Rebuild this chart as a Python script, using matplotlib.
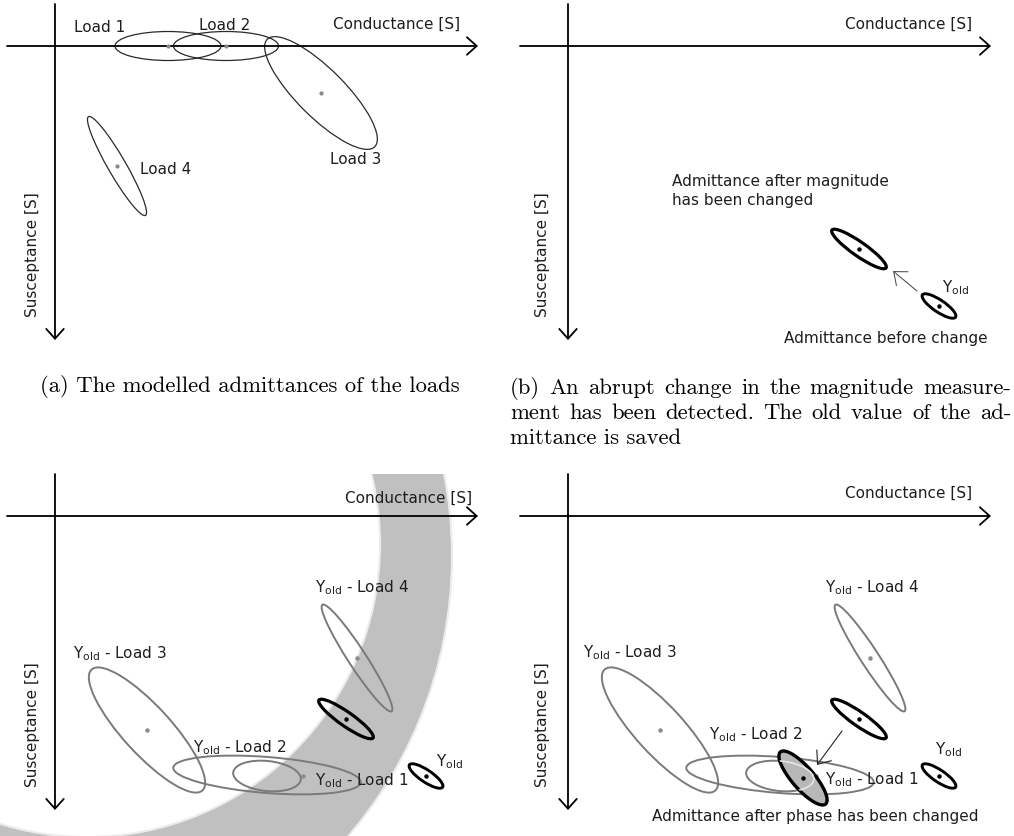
import matplotlib.pyplot as plt
from matplotlib.patches import Ellipse, Circle

W, H = 1014, 837
TXT = '#1e1e1e'

# (a) modelled load admittances: centre (G, B) from the origin, ellipse size and tilt
load_names = ['Load 1', 'Load 2', 'Load 3', 'Load 4']
load_g = [113, 171, 266, 62]
load_b = [0, 0, 47, 120]
load_w = [106, 105, 152, 114]
load_h = [29, 29, 48, 18]
load_angle = [0, 0, 45, 60]

# admittance before the change (Y_old) and after the magnitude change
old_g, old_b, old_w, old_h, old_angle = 371, 260, 40, 12, 34
new_g, new_b, new_w, new_h, new_angle = 291, 203, 66, 14, 35

# (c)/(d) Y_old - Load k
diff_names = ['Load 1', 'Load 2', 'Load 3', 'Load 4']
diff_g = [212, 212, 92, 302]
diff_b = [260, 259, 214, 142]
diff_w = [68, 188, 164, 127]
diff_h = [30, 36, 48, 18]
diff_angle = [6, 4.5, 47.5, 57]
diff_dot_g = [248, None, 92, 302]
diff_dot_b = [260, None, 214, 142]

# (d) admittance after the phase has been changed
phase_g, phase_b, phase_w, phase_h, phase_angle = 235, 262, 69, 22, 49

# (c) band of possible magnitudes: inner and outer circle (centre g, centre b, radius)
band_inner = (32, 28, 293)
band_outer = (-33, 40, 430)

caption_a = '(a) The modelled admittances of the loads'
caption_b = ['(b) An abrupt change in the magnitude measure-',
             'ment has been detected.  The old value of the ad-',
             'mittance is saved']

fig = plt.figure(figsize=(W / 100, H / 100), dpi=100)


def panel(x, y, w, h, ox, oy):
    ax = fig.add_axes([x / W, 1 - (y + h) / H, w / W, h / H])
    ax.set_xlim(x - ox, x + w - ox)
    ax.set_ylim(y + h - oy, y - oy)
    ax.axis('off')
    return ax


def draw_axes(ax, cond_xy, susc_x):
    arrow = dict(arrowstyle='->,head_length=0.5,head_width=0.45', lw=1.3,
                 color='black', shrinkA=0, shrinkB=0, mutation_scale=14)
    ax.annotate('', xy=(423, 0), xytext=(-48, 0), arrowprops=arrow)
    ax.annotate('', xy=(0, 294), xytext=(0, -42), arrowprops=arrow)
    ax.text(cond_xy[0], cond_xy[1], 'Conductance [S]', ha='center', va='center',
            fontsize=11, color=TXT)
    ax.text(susc_x, 208, 'Susceptance [S]', rotation=90, ha='center', va='center',
            fontsize=11, color=TXT)


def ell(ax, g, b, w, h, a, ec, lw, fc='none', z=2, dot=True):
    e = Ellipse((g, b), w, h, angle=a, ec=ec, fc=fc, lw=lw, zorder=z)
    ax.add_patch(e)
    if dot:
        ax.plot(g, b, 'o', ms=2.2, color=ec, zorder=z + 0.1)
    return e


def yold_text(ax, x, y, rest=''):
    ax.text(x, y, r'Y$_{\mathregular{old}}$' + rest, ha='left', va='center',
            fontsize=11, color=TXT, zorder=5)


# ---------------- (a)
ax = panel(0, 0, 507, 360, 55, 47)
draw_axes(ax, (342, -23), -23)
for i in range(4):
    ell(ax, load_g[i], load_b[i], load_w[i], load_h[i], load_angle[i], '#2a2a2a', 0.9, dot=False)
    ax.plot(load_g[i], load_b[i], 'o', ms=2, color='#888888', zorder=3)
label_pos = [(45, -20), (170, -21), (301, 113), (111, 123)]
for name, (x, y) in zip(load_names, label_pos):
    ax.text(x, y, name, ha='center', va='center', fontsize=11, color=TXT)

# ---------------- (b)
ax = panel(507, 0, 507, 360, 568, 47)
draw_axes(ax, (341, -23), -25)
ell(ax, new_g, new_b, new_w, new_h, new_angle, 'black', 2.3)
ell(ax, old_g, old_b, old_w, old_h, old_angle, 'black', 2.1)
ax.annotate('', xy=(325, 225), xytext=(349, 245),
            arrowprops=dict(arrowstyle='->,head_length=0.8,head_width=0.65', lw=0.8,
                            color='#555555', shrinkA=0, shrinkB=0, mutation_scale=10))
ax.text(104, 144, 'Admittance after magnitude\nhas been changed', ha='left', va='center',
        fontsize=11, color=TXT, linespacing=1.3)
yold_text(ax, 374, 241)
ax.text(318, 292, 'Admittance before change', ha='center', va='center', fontsize=11, color=TXT)

# ---------------- (c)
ax = panel(0, 475, 507, 362, 55, 517)
ax.add_patch(Circle(band_outer[:2], band_outer[2], fc='#c0c0c0', ec='#ececec', lw=1.5, zorder=0.5))
ax.add_patch(Circle(band_inner[:2], band_inner[2], fc='white', ec='#ececec', lw=1.5, zorder=0.6))
draw_axes(ax, (354, -19), -23)
for i in range(4):
    ell(ax, diff_g[i], diff_b[i], diff_w[i], diff_h[i], diff_angle[i], '#7a7a7a', 1.4, dot=False)
    if diff_dot_g[i] is not None:
        ax.plot(diff_dot_g[i], diff_dot_b[i], 'o', ms=2.2, color='#8a8a8a', zorder=3)
ell(ax, new_g, new_b, new_w, new_h, new_angle, 'black', 2.3)
ell(ax, old_g, old_b, old_w, old_h, old_angle, 'black', 2.1)
for name, (x, y) in zip(diff_names, [(260, 264), (138, 231), (18, 137), (260, 71)]):
    yold_text(ax, x, y, ' - ' + name)
yold_text(ax, 381, 245)

# ---------------- (d)
ax = panel(507, 475, 507, 362, 568, 517)
draw_axes(ax, (341, -24), -25)
for i in range(4):
    ell(ax, diff_g[i], diff_b[i], diff_w[i], diff_h[i], diff_angle[i], '#7a7a7a', 1.4, dot=False)
    if diff_dot_g[i] is not None:
        ax.plot(diff_dot_g[i], diff_dot_b[i], 'o', ms=2.2, color='#8a8a8a', zorder=3)
ell(ax, new_g, new_b, new_w, new_h, new_angle, 'black', 2.3)
ell(ax, old_g, old_b, old_w, old_h, old_angle, 'black', 2.1)
ph = ell(ax, phase_g, phase_b, phase_w, phase_h, phase_angle, 'black', 2.4, fc='#b8b8b8', z=4)
inner = Ellipse((diff_g[0], diff_b[0]), diff_w[0], diff_h[0], angle=diff_angle[0],
                ec='#e6e6e6', fc='none', lw=1.2, zorder=4.05)
ax.add_patch(inner)
inner.set_clip_path(ph)
ax.annotate('', xy=(249, 249), xytext=(274, 215),
            arrowprops=dict(arrowstyle='->,head_length=0.8,head_width=0.65', lw=0.8,
                            color='#222222', shrinkA=0, shrinkB=0, mutation_scale=10))
for name, (x, y) in zip(diff_names, [(257, 263), (141, 218), (15, 136), (257, 71)]):
    yold_text(ax, x, y, ' - ' + name)
yold_text(ax, 367, 233)
ax.text(247, 300, 'Admittance after phase has been changed', ha='center', va='center',
        fontsize=11, color=TXT)

# ---------------- captions (LaTeX-like, caption (b) justified)
cap = dict(family='cmr10', fontsize=16.3, color='black', va='center', ha='left')
fig.text(40 / W, 1 - 387 / H, caption_a, **cap)

renderer = fig.canvas.get_renderer()
left, right = 510, 1011
for k, line in enumerate(caption_b):
    y = 1 - (388 + 25 * k) / H
    if k == len(caption_b) - 1:
        fig.text(left / W, y, line, **cap)
        continue
    words = line.split()
    arts = [fig.text(0, y, w, **cap) for w in words]
    widths = [a.get_window_extent(renderer).width for a in arts]
    gap = (right - left - sum(widths)) / (len(words) - 1)
    x = left
    for a, wd in zip(arts, widths):
        a.set_x(x / W)
        x += wd + gap

fig.savefig('out.png', dpi=100)
